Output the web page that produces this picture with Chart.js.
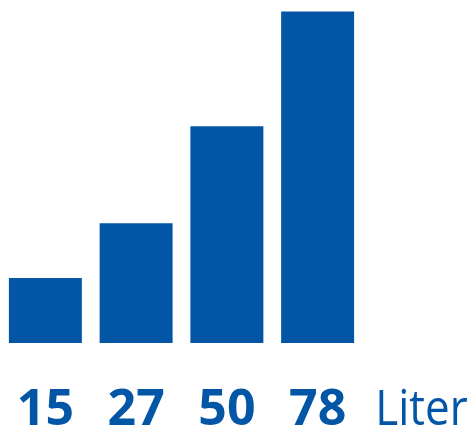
<!DOCTYPE html>
<html>
<head>
<meta charset="utf-8">
<script src="https://cdn.jsdelivr.net/npm/chart.js@4"></script>
<style>
  html, body { margin: 0; padding: 0; background: #fff; }
  #wrap { width: 471px; height: 432px; }
</style>
</head>
<body>
<div id="wrap"><canvas id="chart"></canvas></div>
<script>
// volumes in liters (labels), bar heights as drawn in the original graphic
const categories = ["15", "27", "50", "78"];
const barHeights = [15.3, 28.2, 51, 78];
const unitLabel = "Liter";

const blue = "#0356a5";
const fontFamily = "'Open Sans', 'Noto Sans', sans-serif";
const labelSize = 50;
const labelLine = 2.7; // tall line box pushes the labels down without side padding

// draws the unit text to the right of the last tick label
const unitPlugin = {
  id: "unitLabel",
  afterDraw(chart) {
    const xScale = chart.scales.x;
    const ctx = chart.ctx;
    const last = categories.length - 1;
    const x = xScale.getPixelForTick(last);
    const y = xScale.top + labelSize * labelLine / 2;
    ctx.save();
    ctx.font = "bold " + labelSize + "px " + fontFamily;
    const halfW = ctx.measureText(categories[last]).width / 2;
    ctx.font = "normal " + labelSize + "px " + fontFamily;
    ctx.fillStyle = blue;
    ctx.textAlign = "left";
    ctx.textBaseline = "middle";
    ctx.translate(x + halfW + 29, y);
    ctx.scale(0.88, 1); // the original face is narrower
    ctx.fillText(unitLabel, 0, 0);
    ctx.restore();
  }
};

new Chart(document.getElementById("chart"), {
  type: "bar",
  data: {
    labels: categories,
    datasets: [{
      data: barHeights,
      backgroundColor: blue,
      borderWidth: 0,
      barPercentage: 0.804,
      categoryPercentage: 1
    }]
  },
  options: {
    responsive: true,
    maintainAspectRatio: false,
    animation: false,
    layout: { padding: { top: 3, right: 108, left: 0, bottom: 0 } },
    plugins: {
      legend: { display: false },
      tooltip: { enabled: false }
    },
    scales: {
      x: {
        grid: { display: false, drawTicks: false },
        border: { display: false },
        afterFit(scale) { scale.height = 89; },
        ticks: {
          color: blue,
          padding: 0,
          font: { family: fontFamily, size: labelSize, weight: "bold", lineHeight: labelLine }
        }
      },
      y: {
        display: false,
        min: 0,
        max: 80
      }
    }
  },
  plugins: [unitPlugin]
});
</script>
</body>
</html>
